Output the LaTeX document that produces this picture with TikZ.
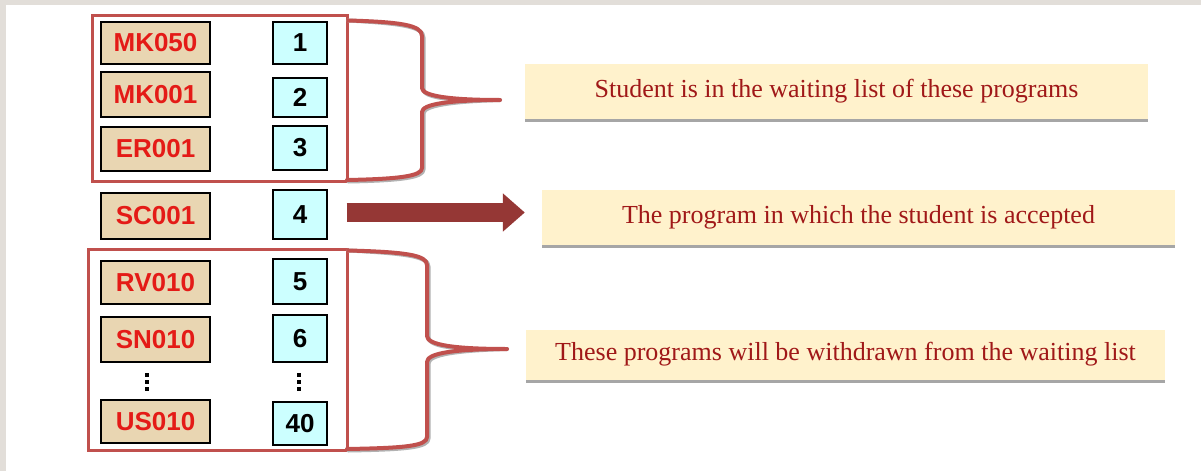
\documentclass[tikz,border=0pt]{standalone}
\usepackage{fontspec}
\newfontfamily\codefont{Liberation Sans}
\newfontfamily\labfont{Liberation Serif}
\usetikzlibrary{arrows.meta,shadows}
\definecolor{tanfill}{HTML}{E9D6B2}
\definecolor{codered}{HTML}{E41B17}
\definecolor{cyanfill}{HTML}{CCFFFF}
\definecolor{framec}{HTML}{C0504D}
\definecolor{cream}{HTML}{FFF2CC}
\definecolor{labred}{HTML}{A01818}
\definecolor{arrowc}{HTML}{953735}
\definecolor{shadowgray}{HTML}{A6A6A6}
\definecolor{bggray}{HTML}{E2DED9}
\begin{document}
\begin{tikzpicture}[x=1pt,y=-1pt,
  code/.style={draw=black, line width=1.2pt, fill=tanfill, text=codered,
    font=\codefont\bfseries\fontsize{26}{30}\selectfont, minimum width=109pt, inner sep=0pt},
  num/.style={draw=black, line width=1.2pt, fill=cyanfill, text=black,
    font=\codefont\bfseries\fontsize{26}{30}\selectfont, minimum width=54pt, inner sep=0pt},
  frame/.style={draw=framec, line width=3pt, inner sep=0pt},
  label/.style={fill=cream, text=labred, font=\labfont\fontsize{26}{30}\selectfont,
    drop shadow={shadow xshift=0pt, shadow yshift=-3pt, fill=shadowgray, opacity=1}, inner sep=0pt},
  brace/.style={draw=framec, line width=4pt, line cap=round, line join=round},
  braceshadow/.style={draw=black!30, line width=4pt, line cap=round, line join=round},
  bigarrow/.style={draw=arrowc, line width=19pt, -{Triangle[length=22pt,width=37pt]}},
  dotmark/.style={fill=black}
]
% background
\fill[white] (0,0) rectangle (1201,471);
\fill[bggray] (0,0) rectangle (1201,5);
\fill[bggray] (0,0) rectangle (6,471);
\useasboundingbox (0,0) rectangle (1201,471);

% frames
\node[frame, minimum width=255pt, minimum height=166pt] (f1) at (219.5,98) {};
\node[frame, minimum width=259pt, minimum height=201pt] (f2) at (217.5,349.5) {};

% code boxes
\node[code, minimum height=42pt] (c1) at (155.5,43) {MK050};
\node[code, minimum height=45pt] (c2) at (155.5,94.5) {MK001};
\node[code, minimum height=44pt] (c3) at (155.5,149) {ER001};
\node[code, minimum height=46pt] (c4) at (155.5,216) {SC001};
\node[code, minimum height=43pt] (c5) at (155.5,282.5) {RV010};
\node[code, minimum height=45pt] (c6) at (155.5,339.5) {SN010};
\node[code, minimum height=43pt] (c7) at (155.5,421.5) {US010};

% number boxes
\node[num, minimum height=42pt] (n1) at (300,43) {1};
\node[num, minimum height=39pt] (n2) at (300,97.5) {2};
\node[num, minimum height=44pt] (n3) at (300,148) {3};
\node[num, minimum height=49pt] (n4) at (300,214.5) {4};
\node[num, minimum height=45pt] (n5) at (300,281.5) {5};
\node[num, minimum height=47pt] (n6) at (300,338.5) {6};
\node[num, minimum height=43pt] (n7) at (300,423.5) {40};

% vertical dots
\foreach \yy in {375,382,389}{
  \fill[dotmark] (144.5,\yy-2) rectangle (148.5,\yy+2);
  \fill[dotmark] (296.5,\yy-2) rectangle (300.5,\yy+2);
}

% label boxes
\node[label, minimum width=623pt, minimum height=55pt] (t1) at (836.5,91) {Student is in the waiting list of these programs};
\node[label, minimum width=633pt, minimum height=55pt] (t2) at (858.5,217.5) {The program in which the student is accepted};
\node[label, minimum width=639pt, minimum height=50pt] (t3) at (845.5,354.5) {These programs will be withdrawn from the waiting list};

% braces
\coordinate (b1tip) at (500,100);
\coordinate (b2tip) at (507,349);
\foreach \st/\sx/\sy in {braceshadow/1.5/1.5, brace/0/0}{
  \draw[\st, shift={(\sx,\sy)}] (f1.north east) ++(0,7) .. controls (400,22) and (422,25) .. (422,36)
     -- (422,88) .. controls (422,96) and (450,100) .. (b1tip)
     .. controls (450,100) and (422,104) .. (422,112)
     -- (422,168) .. controls (422,176) and (400,179) .. (347,180);
  \draw[\st, shift={(\sx,\sy)}] (f2.north east) ++(0,3) .. controls (405,252) and (427,255) .. (427,265)
     -- (427,336) .. controls (427,345) and (455,349) .. (b2tip)
     .. controls (455,349) and (427,353) .. (427,362)
     -- (427,437) .. controls (427,446) and (405,448) .. (347,449);
}

% arrow
\draw[bigarrow] ([xshift=19pt,yshift=2pt]n4.east) -- ([xshift=-17pt,yshift=2pt]n4.east -| t2.west);
\end{tikzpicture}
\end{document}
